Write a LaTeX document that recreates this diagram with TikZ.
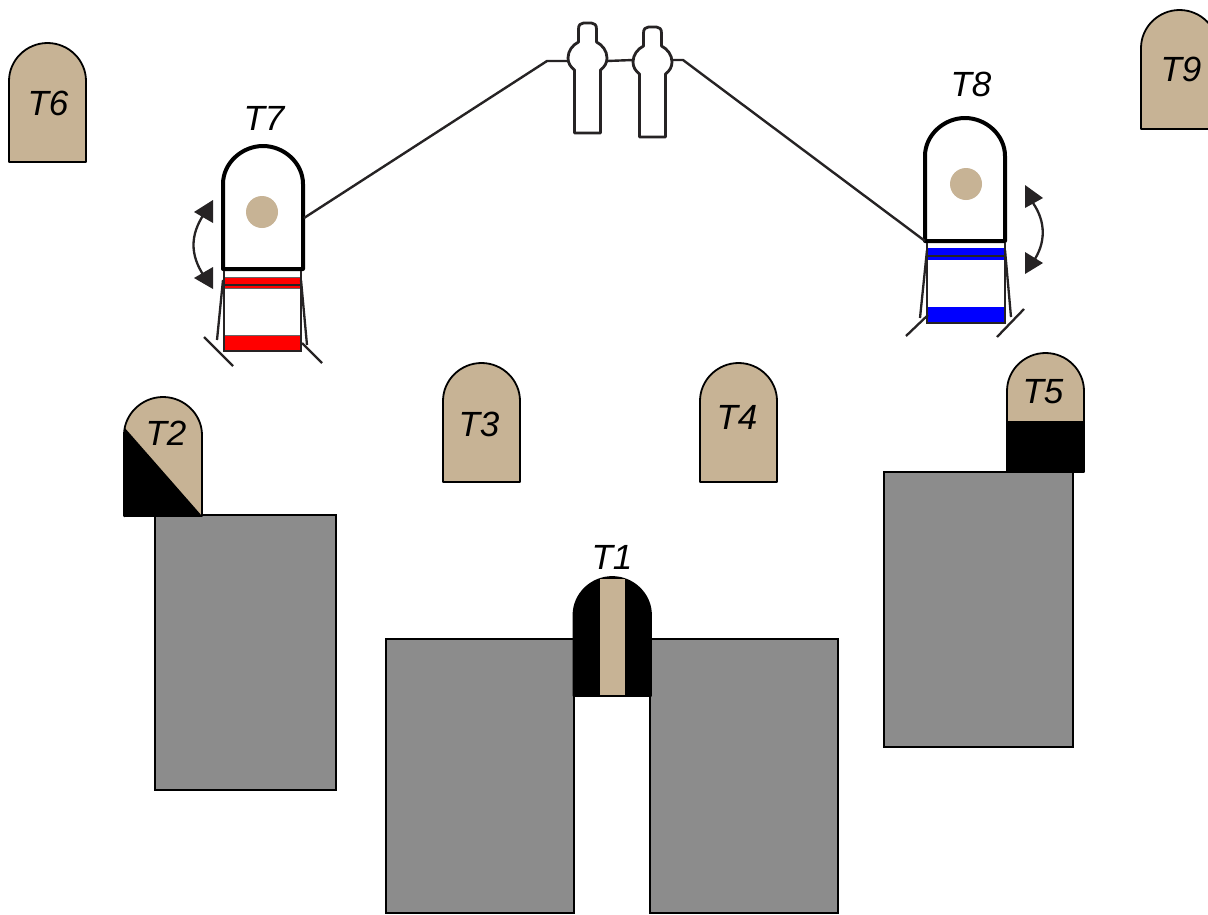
\documentclass[tikz,border=0pt]{standalone}
\usepackage{fontspec}
\setmainfont{Liberation Sans}
\definecolor{tombtan}{HTML}{C7B395}
\definecolor{slab}{HTML}{8C8C8C}
\definecolor{ink}{HTML}{262324}
\newcommand{\archpath}[4]{({#1},{#4}) -- ({#1},{#3+38}) .. controls ({#1},{#3+17}) and ({(#1+#2)/2-21},{#3}) .. ({(#1+#2)/2},{#3}) .. controls ({(#1+#2)/2+21},{#3}) and ({#2},{#3+17}) .. ({#2},{#3+38}) -- ({#2},{#4}) -- cycle}
\newcommand{\personpath}[2]{
 ({#1-13},{#2+75}) -- ({#1-13},{#2+12})
 .. controls ({#1-17},{#2+9}) and ({#1-19.5},{#2+5}) .. ({#1-19.5},{#2})
 .. controls ({#1-19.5},{#2-7}) and ({#1-15},{#2-13}) .. ({#1-9},{#2-16})
 -- ({#1-9},{#2-29}) .. controls ({#1-9},{#2-33}) and ({#1-7},{#2-35}) .. ({#1-4},{#2-35})
 -- ({#1+4},{#2-35}) .. controls ({#1+7},{#2-35}) and ({#1+9},{#2-33}) .. ({#1+9},{#2-29})
 -- ({#1+9},{#2-16}) .. controls ({#1+15},{#2-13}) and ({#1+19.5},{#2-7}) .. ({#1+19.5},{#2})
 .. controls ({#1+19.5},{#2+5}) and ({#1+17},{#2+9}) .. ({#1+13},{#2+12})
 -- ({#1+13},{#2+75}) -- cycle}
\tikzset{
 tomb/.style={draw=black,line width=1.8pt,fill=tombtan,line join=round},
 slabbox/.style={draw=black,line width=2.2pt,fill=slab},
 wire/.style={draw=ink,line width=2.4pt,line join=round},
 frame/.style={draw=black,line width=4pt,fill=white,line join=round},
 person/.style={draw=ink,line width=2.8pt,fill=white,line join=round},
 leg/.style={draw=ink,line width=2.3pt},
 tip/.style={fill=ink,draw=none},
 lab/.style={font=\fontsize{35}{35}\selectfont\itshape,inner sep=0pt,text=black},
 band/.style={draw=ink!70,line width=1pt},
}
\begin{document}
\begin{tikzpicture}[x=1pt,y=-1pt]
\useasboundingbox (0,0) rectangle (1208,914);
% slabs
\draw[slabbox] (155,515) rectangle (336,790);
\draw[slabbox] (386,639) rectangle (574,913);
\draw[slabbox] (650,639) rectangle (838,913);
\draw[slabbox] (884,472) rectangle (1073,747);
% plain tombs
\draw[tomb] \archpath{9}{86}{43}{162};
\draw[tomb] \archpath{1141}{1218}{10}{129};
\draw[tomb] \archpath{443}{520}{363}{482};
\draw[tomb] \archpath{700}{777}{363}{482};
% T5
\draw[tomb] \archpath{1007}{1084}{353}{472};
\fill[black] (1006,421) rectangle (1084,473);
% T2
\draw[tomb] \archpath{124}{202}{397}{516};
\fill[black] (124,427) -- (202,516) -- (124,517) -- cycle;
% T1
\draw[tomb,fill=black] \archpath{573.5}{651}{577}{696};
\fill[tombtan] (600,579) rectangle (625,695);
% T7
\draw[frame] \archpath{223}{303}{146}{269};
\fill[tombtan] (262,212) circle (16);
\fill[red] (225,277) rectangle (301,288);
\draw[band] (225,277) -- (301,277) (225,288) -- (301,288);
\draw[draw=ink,line width=1.2pt] (225,285) -- (301,285);
\fill[red] (225,335) rectangle (301,351);
\draw[band] (225,335) -- (301,335);
\draw[draw=ink,line width=1.6pt] (224,271) -- (224,351) -- (301,351) -- (301,271);
\draw[leg] (223,280) -- (217,340);
\draw[leg] (301,280) -- (307,345);
\draw[leg] (204,337) -- (233,366);
\draw[leg] (302,343) -- (322,363);
\fill[tip] (194,212) -- (213,200) -- (213,223) -- cycle;
\fill[tip] (194,278) -- (213,267) -- (213,289) -- cycle;
\draw[leg] (204,214) .. controls (190,235) and (190,255) .. (204,276);
% T8
\draw[frame] \archpath{925}{1005}{118}{241};
\fill[tombtan] (966,184) circle (16);
\fill[blue] (928,248) rectangle (1005,260);
\draw[draw=ink,line width=1.2pt] (928,256) -- (1005,256);
\fill[blue] (928,307) rectangle (1005,323);
\draw[draw=ink,line width=1.6pt] (927,243) -- (927,323) -- (1005,323) -- (1005,243);
\draw[leg] (927,250) -- (920,318);
\draw[leg] (1005,250) -- (1011,317);
\draw[leg] (906,336) -- (928,315);
\draw[leg] (997,337) -- (1024,309);
\fill[tip] (1043,198) -- (1025,185) -- (1025,208) -- cycle;
\fill[tip] (1043,263) -- (1025,252) -- (1025,274) -- cycle;
\draw[leg] (1033,203) .. controls (1046,222) and (1046,243) .. (1033,262);
% people
\draw[person] \personpath{587.5}{58};
\draw[person] \personpath{652.5}{62};
% wires
\coordinate (leftend) at (304,218);
\coordinate (leftbend) at (547,61);
\coordinate (p1w) at (568,61);
\coordinate (p1e) at (607,61);
\coordinate (p2w) at (633,60);
\coordinate (p2e) at (672,60);
\coordinate (rightbend) at (683,60);
\coordinate (rightend) at (925,241);
\draw[wire] (leftend) -- (leftbend) -- (p1w);
\draw[wire] (p1e) -- (p2w);
\draw[wire] (p2e) -- (rightbend) -- (rightend);
% labels
\node[lab] (t1) at (612,557) {T1};
\node[lab] (t2) at (166,433) {T2};
\node[lab] (t3) at (479,424) {T3};
\node[lab] (t4) at (737,417) {T4};
\node[lab] (t5) at (1043,392) {T5};
\node[lab] (t6) at (48,103) {T6};
\node[lab] (t7) at (264,118) {T7};
\node[lab] (t8) at (971,84) {T8};
\node[lab] (t9) at (1181,69) {T9};
\end{tikzpicture}
\end{document}
